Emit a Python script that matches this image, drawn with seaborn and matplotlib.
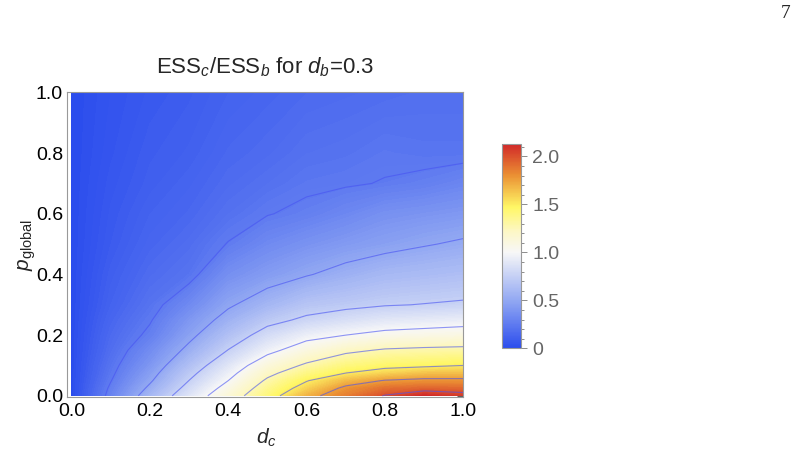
import numpy as np
import matplotlib
matplotlib.use("Agg")
import matplotlib.pyplot as plt
import seaborn as sns
from matplotlib.colors import LinearSegmentedColormap, Normalize
from matplotlib.cm import ScalarMappable
from matplotlib.ticker import MultipleLocator

# grid
d_c = [0.0, 0.1, 0.2, 0.3, 0.4, 0.5, 0.6, 0.7, 0.8, 0.9, 1.0]
p_global = [0.0, 0.025, 0.05, 0.075, 0.1, 0.15, 0.2, 0.25, 0.3, 0.4, 0.5, 0.6, 0.7, 0.8, 1.0]

# ESS_c/ESS_b, one list per d_c value (over p_global)
ratio_by_dc = [
    [0.00, 0.00, 0.00, 0.00, 0.00, 0.00, 0.00, 0.00, 0.00, 0.00, 0.00, 0.00, 0.00, 0.00, 0.00],
    [0.29, 0.27, 0.245, 0.225, 0.21, 0.18, 0.16, 0.14, 0.12, 0.10, 0.08, 0.07, 0.06, 0.05, 0.04],
    [0.589, 0.53, 0.48, 0.44, 0.40, 0.34, 0.275, 0.24, 0.21, 0.17, 0.14, 0.12, 0.10, 0.09, 0.07],
    [0.872, 0.81, 0.752, 0.70, 0.645, 0.54, 0.46, 0.40, 0.33, 0.215, 0.18, 0.15, 0.13, 0.11, 0.09],
    [1.14, 1.07, 1.00, 0.94, 0.88, 0.755, 0.65, 0.555, 0.48, 0.36, 0.255, 0.20, 0.17, 0.15, 0.12],
    [1.41, 1.35, 1.28, 1.20, 1.12, 0.95, 0.82, 0.70, 0.585, 0.43, 0.33, 0.245, 0.20, 0.17, 0.14],
    [1.69, 1.58, 1.49, 1.38, 1.28, 1.10, 0.94, 0.78, 0.68, 0.49, 0.38, 0.275, 0.23, 0.20, 0.16],
    [1.86, 1.79, 1.66, 1.50, 1.40, 1.21, 1.00, 0.84, 0.71, 0.55, 0.42, 0.32, 0.24, 0.21, 0.17],
    [2.01, 1.90, 1.76, 1.58, 1.45, 1.27, 1.05, 0.89, 0.74, 0.60, 0.455, 0.37, 0.255, 0.23, 0.18],
    [2.13, 1.93, 1.79, 1.635, 1.47, 1.29, 1.07, 0.91, 0.755, 0.62, 0.49, 0.39, 0.275, 0.22, 0.19],
    [2.06, 1.92, 1.79, 1.64, 1.50, 1.30, 1.09, 0.93, 0.77, 0.64, 0.52, 0.41, 0.31, 0.22, 0.19],
]
contour_levels = [0.25, 0.5, 0.75, 1.0, 1.25, 1.5, 1.75, 2.0]
cbar_ticks = [0, 0.5, 1.0, 1.5, 2.0]
cbar_labels = ["0", "0.5", "1.0", "1.5", "2.0"]
vmax = 2.13

sns.set_style("white")
plt.rcParams["font.family"] = ["Liberation Sans", "DejaVu Sans"]
plt.rcParams["mathtext.fontset"] = "custom"
plt.rcParams["mathtext.rm"] = "Liberation Sans"
plt.rcParams["mathtext.it"] = "Liberation Sans:italic"

temp_map = LinearSegmentedColormap.from_list("temperature", [
    (0.00, (0.17, 0.30, 0.93)),
    (0.22, (0.55, 0.64, 0.95)),
    (0.47, (0.97, 0.97, 0.97)),
    (0.57, (0.99, 0.97, 0.78)),
    (0.69, (1.00, 0.97, 0.40)),
    (0.85, (0.92, 0.56, 0.20)),
    (1.00, (0.82, 0.16, 0.16)),
])

X, Y = np.meshgrid(d_c, p_global)
Z = np.array(ratio_by_dc).T

fig = plt.figure(figsize=(7.98, 4.62), dpi=100)
ax = fig.add_axes([0.0843, 0.140, 0.4962, 0.660])

ax.contourf(X, Y, Z, levels=np.linspace(0, vmax, 160), cmap=temp_map,
            vmin=0, vmax=vmax, antialiased=False)
ax.contour(X, Y, Z, levels=contour_levels, colors=[(0.28, 0.32, 0.95, 0.6)],
           linewidths=0.8)

ax.set_xlim(-0.011, 1.0)
ax.set_ylim(-0.005, 1.0)
ax.xaxis.set_major_locator(MultipleLocator(0.2))
ax.yaxis.set_major_locator(MultipleLocator(0.2))
ax.xaxis.set_minor_locator(MultipleLocator(0.05))
ax.yaxis.set_minor_locator(MultipleLocator(0.05))
ax.xaxis.set_major_formatter(lambda v, p: f"{v:.1f}")
ax.yaxis.set_major_formatter(lambda v, p: f"{v:.1f}")
ax.tick_params(which="both", direction="in", top=True, right=True,
               color="0.35", width=0.7, labelsize=14, labelcolor="black")
ax.tick_params(which="major", length=4.5)
ax.tick_params(which="minor", length=2.5)
ax.tick_params(axis="x", pad=4)
ax.tick_params(axis="y", pad=3)
for s in ax.spines.values():
    s.set_color("0.6")
    s.set_linewidth(0.8)

fig.text(265 / 798, 1 - 67 / 462, r"ESS$_c$/ESS$_b$ for $d_b$=0.3",
         ha="center", va="center", fontsize=16)
fig.text(266 / 798, 1 - 438 / 462, r"$d_c$", ha="center", va="center", fontsize=15)
fig.text(27 / 798, 1 - 245 / 462, r"$p_{\mathrm{global}}$", ha="center",
         va="center", rotation=90, fontsize=15)
fig.text(786 / 798, 1 - 13 / 462, "7", ha="center", va="center",
         family="Liberation Serif", fontsize=14)

cax = fig.add_axes([502 / 798, 1 - 348.3 / 462, 19 / 798, 204.3 / 462])
sm = ScalarMappable(norm=Normalize(0, vmax), cmap=temp_map)
cb = fig.colorbar(sm, cax=cax)
cb.set_ticks(cbar_ticks)
cb.set_ticklabels(cbar_labels)
cb.ax.yaxis.set_minor_locator(MultipleLocator(0.1))
cb.ax.tick_params(which="both", direction="out", color="0.55", width=0.7,
                  labelsize=14, labelcolor="0.4", pad=4)
cb.ax.tick_params(which="major", length=4)
cb.ax.tick_params(which="minor", length=2.5)
cb.outline.set_edgecolor("0.6")
cb.outline.set_linewidth(0.8)

fig.savefig("out.png", dpi=100)
